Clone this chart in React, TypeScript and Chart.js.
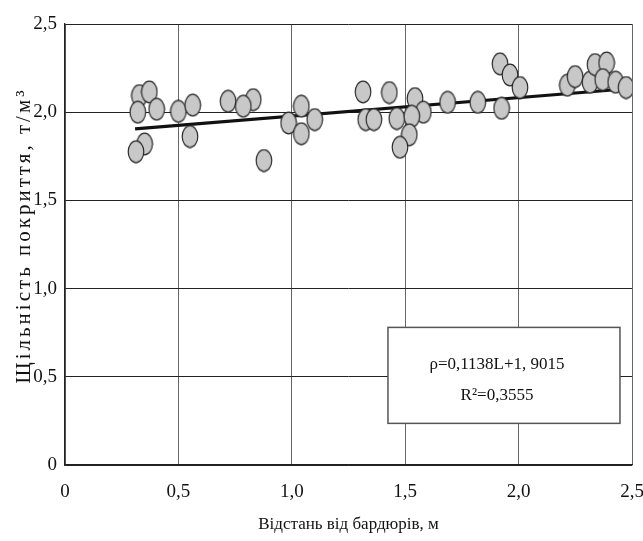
import React, { useEffect, useRef } from 'react';
import { Chart, registerables } from 'chart.js';

Chart.register(...registerables);

// Distance from the curb, m
const distance = [
  0.328, 0.372, 0.321, 0.404, 0.351, 0.313, 0.5, 0.563, 0.551, 0.719,
  0.83, 0.786, 0.877, 1.042, 0.986, 1.101, 1.042, 1.314, 1.326, 1.362,
  1.43, 1.543, 1.58, 1.463, 1.529, 1.518, 1.477, 1.687, 1.82, 1.925,
  1.918, 1.962, 2.006, 2.215, 2.249, 2.315, 2.337, 2.388, 2.371, 2.428,
  2.474,
];
// Pavement density, t/m3
const density = [
  2.094, 2.115, 2.0, 2.017, 1.82, 1.776, 2.005, 2.04, 1.862, 2.062,
  2.071, 2.034, 1.726, 2.034, 1.939, 1.958, 1.878, 2.115, 1.958, 1.958,
  2.111, 2.077, 2.0, 1.964, 1.977, 1.872, 1.801, 2.056, 2.056, 2.022,
  2.274, 2.211, 2.14, 2.153, 2.202, 2.17, 2.27, 2.279, 2.185, 2.17,
  2.14,
];

// Trend line ends as drawn in the figure
const trendDistance = [0.309, 2.413];
const trendDensity = [1.906, 2.126];

const xTickLabels = ['0', '0,5', '1,0', '1,5', '2,0', '2,5'];
const yTickLabels = ['0', '0,5', '1,0', '1,5', '2,0', '2,5'];
const xTitle = 'Відстань від бардюрів, м';
const yTitle = 'Щільність покриття, т/м³';
const equationLines = ['ρ=0,1138L+1, 9015', 'R²=0,3555'];
// Equation box corners in data units
const boxX = [1.424, 2.447];
const boxY = [0.236, 0.78];

const SERIF = '"Liberation Serif", "Times New Roman", serif';

function makeEllipse(): HTMLCanvasElement {
  const c = document.createElement('canvas');
  c.width = 18;
  c.height = 24;
  const g = c.getContext('2d')!;
  g.beginPath();
  g.ellipse(9, 12, 7.8, 10.8, 0, 0, Math.PI * 2);
  g.fillStyle = '#c7c8c7';
  g.fill();
  g.lineWidth = 1.2;
  g.strokeStyle = '#2b2b2b';
  g.stroke();
  return c;
}

const yTitlePlugin = {
  id: 'yTitleCustom',
  afterDraw(chart: any) {
    const { ctx, chartArea } = chart;
    ctx.save();
    ctx.translate(30, (chartArea.top + chartArea.bottom) / 2 - 9);
    ctx.rotate(-Math.PI / 2);
    ctx.font = `21px ${SERIF}`;
    try { (ctx as any).letterSpacing = '3px'; } catch (e) { /* ignore */ }
    ctx.textAlign = 'center';
    ctx.textBaseline = 'alphabetic';
    ctx.fillStyle = '#111';
    ctx.fillText(yTitle, 0, 0);
    ctx.restore();
  },
};

const boxPlugin = {
  id: 'equationBox',
  afterDatasetsDraw(chart: any) {
    const { ctx, scales } = chart;
    const x1 = scales.x.getPixelForValue(boxX[0]);
    const x2 = scales.x.getPixelForValue(boxX[1]);
    const y1 = scales.y.getPixelForValue(boxY[1]);
    const y2 = scales.y.getPixelForValue(boxY[0]);
    ctx.save();
    ctx.fillStyle = '#ffffff';
    ctx.fillRect(x1, y1, x2 - x1, y2 - y1);
    ctx.strokeStyle = '#555';
    ctx.lineWidth = 1.5;
    ctx.strokeRect(x1, y1, x2 - x1, y2 - y1);
    ctx.fillStyle = '#111';
    ctx.font = `17px ${SERIF}`;
    ctx.textAlign = 'center';
    ctx.textBaseline = 'middle';
    const w = x2 - x1;
    const cx = x1 + w * 0.47;
    const h = y2 - y1;
    ctx.fillText(equationLines[0], cx, y1 + h * 0.39);
    ctx.fillText(equationLines[1], cx, y1 + h * 0.71);
    ctx.restore();
  },
};

export default function App() {
  const ref = useRef<HTMLCanvasElement | null>(null);

  useEffect(() => {
    if (!ref.current) return;
    const dot = makeEllipse();
    const chart = new Chart(ref.current, {
      type: 'scatter',
      data: {
        datasets: [
          {
            label: 'points',
            data: distance.map((d, i) => ({ x: d, y: density[i] })),
            pointStyle: dot as any,
            order: 0,
          },
          {
            type: 'line',
            label: 'trend',
            data: trendDistance.map((d, i) => ({ x: d, y: trendDensity[i] })),
            borderColor: '#111',
            borderWidth: 3.2,
            pointRadius: 0,
            showLine: true,
            fill: false,
            order: 1,
          } as any,
        ],
      },
      options: {
        animation: false,
        responsive: false,
        devicePixelRatio: 1,
        layout: { padding: { top: 24, right: 11, left: 0, bottom: 0 } },
        plugins: {
          legend: { display: false },
          tooltip: { enabled: false },
        },
        scales: {
          x: {
            type: 'linear',
            min: 0,
            max: 2.5,
            afterBuildTicks: (scale: any) => {
              scale.ticks = xTickLabels.map((_, i) => ({ value: i * 0.5 }));
            },
            ticks: {
              callback: (_v: any, i: number) => xTickLabels[i],
              font: { family: SERIF, size: 19 },
              color: '#111',
              padding: 16,
              maxRotation: 0,
            },
            grid: { color: '#666', lineWidth: 1, drawTicks: false },
            border: { color: '#222', width: 1.3 },
            title: {
              display: true,
              text: xTitle,
              font: { family: SERIF, size: 17 },
              color: '#111',
              padding: { top: 0, bottom: 6 },
            },
            afterFit: (scale: any) => {
              scale.height = 76;
              scale.paddingLeft = 0;
              scale.paddingRight = 0;
            },
          },
          y: {
            type: 'linear',
            min: 0,
            max: 2.5,
            afterBuildTicks: (scale: any) => {
              scale.ticks = yTickLabels.map((_, i) => ({ value: i * 0.5 }));
            },
            ticks: {
              callback: (_v: any, i: number) => yTickLabels[i],
              font: { family: SERIF, size: 19 },
              color: '#111',
              padding: 8,
            },
            grid: { color: '#222', lineWidth: 1, drawTicks: false },
            border: { color: '#222', width: 1.3 },
            afterFit: (scale: any) => {
              scale.width = 65;
              scale.paddingTop = 0;
              scale.paddingBottom = 0;
            },
          },
        },
      },
      plugins: [yTitlePlugin, boxPlugin],
    });
    return () => chart.destroy();
  }, []);

  return (
    <div style={{ position: 'absolute', left: 0, top: 0, width: 643, height: 541, background: '#fff' }}>
      <canvas ref={ref} width={643} height={541} />
    </div>
  );
}
